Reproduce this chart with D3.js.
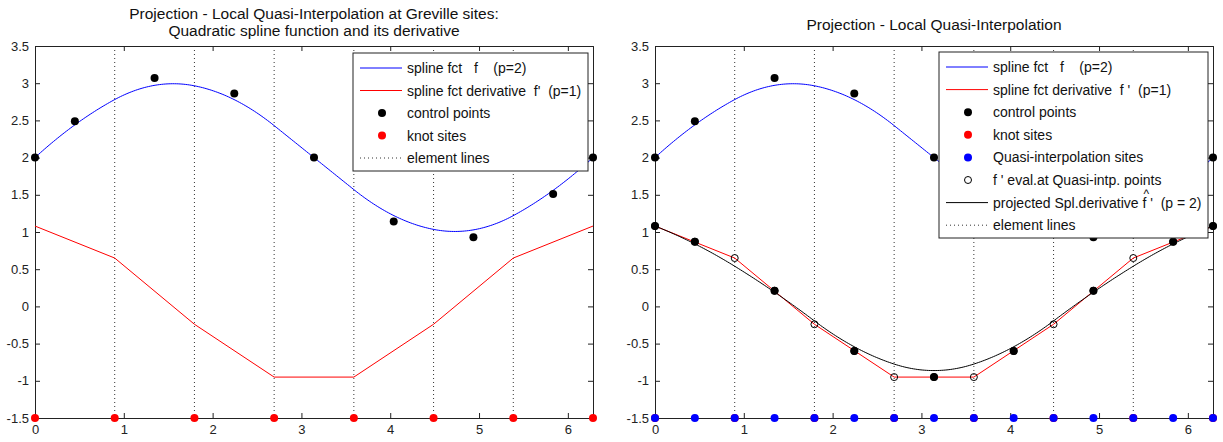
<!DOCTYPE html>
<html>
<head>
<meta charset="utf-8">
<script src="https://cdn.jsdelivr.net/npm/d3@7"></script>
<style>
  html, body { margin: 0; padding: 0; background: #fff; }
  svg { display: block; font-family: "Liberation Sans", Arial, Helvetica, sans-serif; }
</style>
</head>
<body>
<svg id="chart" width="1223" height="442"></svg>
<script>
// ---- data ----------------------------------------------------------------
// element knots on [0, 2*pi] (7 elements)
const knots = [0, 0.8976, 1.7952, 2.6928, 3.5904, 4.4880, 5.3856, 6.2832];
// Greville sites of the quadratic spline
const grevilleSites = [0, 0.4488, 1.3464, 2.2440, 3.1416, 4.0392, 4.9368, 5.8344, 6.2832];
// control points of the quadratic spline f (p=2)
const splineCtrl = [2.00, 2.49, 3.07, 2.86, 2.00, 1.14, 0.93, 1.51, 2.00];
// derivative f' (p=1), values at the knots
const derivAtKnots = [1.08, 0.65, -0.24, -0.95, -0.95, -0.24, 0.65, 1.08];
// quasi-interpolation sites (knots and Greville sites merged)
const quasiSites = [0, 0.4488, 0.8976, 1.3464, 1.7952, 2.2440, 2.6928, 3.1416,
                    3.5904, 4.0392, 4.4880, 4.9368, 5.3856, 5.8344, 6.2832];
// f' evaluated at the quasi-interpolation sites
const derivAtQuasi = [1.08, 0.87, 0.65, 0.21, -0.24, -0.60, -0.95, -0.95,
                      -0.95, -0.60, -0.24, 0.21, 0.65, 0.87, 1.08];
// control points of the projected derivative (p=2)
const projCtrl = [1.08, 0.87, 0.21, -0.60, -0.95, -0.60, 0.21, 0.87, 1.08];

const xTicks = [0, 1, 2, 3, 4, 5, 6];
const yTicks = [-1.5, -1, -0.5, 0, 0.5, 1, 1.5, 2, 2.5, 3, 3.5];

// ---- helpers -------------------------------------------------------------
// open knot vector for a quadratic spline over the element knots
const openKnots = [knots[0], knots[0], ...knots, knots[knots.length - 1], knots[knots.length - 1]];

// de Boor evaluation of a degree-2 B-spline
function evalQuadSpline(ctrl, x) {
  const p = 2, t = openKnots;
  let k = p;
  while (k < ctrl.length - 1 && x >= t[k + 1]) k++;
  const d = [];
  for (let j = 0; j <= p; j++) d.push(ctrl[j + k - p]);
  for (let r = 1; r <= p; r++) {
    for (let j = p; j >= r; j--) {
      const i = j + k - p;
      const den = t[i + p - r + 1] - t[i];
      const a = den === 0 ? 0 : (x - t[i]) / den;
      d[j] = (1 - a) * d[j - 1] + a * d[j];
    }
  }
  return d[p];
}
function splineSamples(ctrl) {
  const x0 = knots[0], x1 = knots[knots.length - 1], n = 300;
  return d3.range(n + 1).map(i => {
    const x = x0 + (x1 - x0) * i / n;
    return [x, evalQuadSpline(ctrl, x)];
  });
}

const svg = d3.select("#chart");
const plotTop = 46, plotBottom = 418;

function drawPanel(left, right, opts) {
  const x = d3.scaleLinear().domain([0, knots[knots.length - 1]]).range([left, right]);
  const y = d3.scaleLinear().domain([-1.5, 3.5]).range([plotBottom, plotTop]);
  const g = svg.append("g");
  const line = d3.line().x(d => x(d[0])).y(d => y(d[1]));

  // element lines
  g.selectAll(".elem").data(knots.slice(1, -1)).enter().append("line")
    .attr("x1", d => x(d)).attr("x2", d => x(d))
    .attr("y1", plotTop).attr("y2", plotBottom)
    .attr("stroke", "#333").attr("stroke-width", 1).attr("stroke-dasharray", "1,3");

  // axes (ticks pointing inward, mirrored on top and right)
  const ax = g.append("g");
  ax.append("g").attr("transform", `translate(0,${plotBottom})`)
    .call(d3.axisBottom(x).tickValues(xTicks).tickSize(-5).tickPadding(7).tickFormat(d3.format("d")));
  ax.append("g").attr("transform", `translate(0,${plotTop})`)
    .call(d3.axisTop(x).tickValues(xTicks).tickSize(-5).tickFormat(""));
  ax.append("g").attr("transform", `translate(${left},0)`)
    .call(d3.axisLeft(y).tickValues(yTicks).tickSize(-5).tickPadding(6).tickFormat(d => String(d)));
  ax.append("g").attr("transform", `translate(${right},0)`)
    .call(d3.axisRight(y).tickValues(yTicks).tickSize(-5).tickFormat(""));
  ax.selectAll(".domain").attr("stroke", "#222");
  ax.selectAll(".tick line").attr("stroke", "#222");
  ax.selectAll(".tick text").attr("font-size", 13).attr("fill", "#222")
    .attr("font-family", "Liberation Sans, Arial, sans-serif");

  // spline f
  g.append("path").datum(splineSamples(splineCtrl)).attr("d", line)
    .attr("fill", "none").attr("stroke", "#0000ff").attr("stroke-width", 1);

  // derivative f'
  g.append("path").datum(knots.map((k, i) => [k, derivAtKnots[i]])).attr("d", line)
    .attr("fill", "none").attr("stroke", "#ff0000").attr("stroke-width", 1);

  if (opts.quasi) {
    g.append("path").datum(splineSamples(projCtrl)).attr("d", line)
      .attr("fill", "none").attr("stroke", "#000").attr("stroke-width", 1);
    g.selectAll(".oc").data(quasiSites).enter().append("circle")
      .attr("cx", d => x(d)).attr("cy", (d, i) => y(derivAtQuasi[i])).attr("r", 3.5)
      .attr("fill", "none").attr("stroke", "#000").attr("stroke-width", 1);
    g.selectAll(".pc").data(grevilleSites).enter().append("circle")
      .attr("cx", d => x(d)).attr("cy", (d, i) => y(projCtrl[i])).attr("r", 4)
      .attr("fill", "#000");
  }

  // control points of f
  g.selectAll(".cp").data(grevilleSites).enter().append("circle")
    .attr("cx", d => x(d)).attr("cy", (d, i) => y(splineCtrl[i])).attr("r", 4)
    .attr("fill", "#000");

  // knot sites
  g.selectAll(".ks").data(knots).enter().append("circle")
    .attr("cx", d => x(d)).attr("cy", y(-1.5)).attr("r", 4).attr("fill", "#ff0000");
  if (opts.quasi) {
    g.selectAll(".qs").data(quasiSites).enter().append("circle")
      .attr("cx", d => x(d)).attr("cy", y(-1.5)).attr("r", 4).attr("fill", "#0000ff");
  }

  // legend
  const lg = svg.append("g");
  const L = opts.legend;
  lg.append("rect").attr("x", L.x).attr("y", L.y).attr("width", L.w).attr("height", L.h)
    .attr("fill", "#fff").attr("stroke", "#222").attr("stroke-width", 1);
  L.items.forEach((it, i) => {
    const cy = L.y + 15 + i * L.step;
    const sx0 = L.x + 7, sx1 = L.x + 49, mx = L.x + 29;
    if (it.kind === "line") {
      lg.append("line").attr("x1", sx0).attr("x2", sx1).attr("y1", cy).attr("y2", cy)
        .attr("stroke", it.color).attr("stroke-width", 1)
        .attr("stroke-dasharray", it.dash || null);
    } else if (it.kind === "dot") {
      lg.append("circle").attr("cx", mx).attr("cy", cy).attr("r", 4).attr("fill", it.color);
    } else if (it.kind === "ring") {
      lg.append("circle").attr("cx", mx).attr("cy", cy).attr("r", 3.5)
        .attr("fill", "none").attr("stroke", it.color);
    }
    const tx = L.x + 54;
    lg.append("text").attr("x", tx).attr("y", cy + 5).attr("font-size", 14)
      .attr("fill", "#111").attr("xml:space", "preserve").text(it.label);
    if (it.hatAfter) {
      // hat accent placed over the "f" that follows the given prefix
      const probe = lg.append("text").attr("font-size", 14).attr("xml:space", "preserve")
        .text(it.hatAfter);
      const w = probe.node().getComputedTextLength();
      probe.remove();
      lg.append("text").attr("x", tx + w + 1).attr("y", cy - 5).attr("font-size", 12)
        .attr("fill", "#111").text("^");
    }
  });
}

// left panel
drawPanel(35, 593, {
  quasi: false,
  legend: {
    x: 353, y: 53, w: 235, h: 118, step: 22.5,
    items: [
      { kind: "line", color: "#0000ff", label: "spline fct   f    (p=2)" },
      { kind: "line", color: "#ff0000", label: "spline fct derivative  f'  (p=1)" },
      { kind: "dot", color: "#000", label: "control points" },
      { kind: "dot", color: "#ff0000", label: "knot sites" },
      { kind: "line", color: "#333", dash: "1,3", label: "element lines" }
    ]
  }
});

// right panel
drawPanel(655, 1213, {
  quasi: true,
  legend: {
    x: 939, y: 52, w: 269, h: 186, step: 22.6,
    items: [
      { kind: "line", color: "#0000ff", label: "spline fct   f    (p=2)" },
      { kind: "line", color: "#ff0000", label: "spline fct derivative  f '  (p=1)" },
      { kind: "dot", color: "#000", label: "control points" },
      { kind: "dot", color: "#ff0000", label: "knot sites" },
      { kind: "dot", color: "#0000ff", label: "Quasi-interpolation sites" },
      { kind: "ring", color: "#000", label: "f ' eval.at Quasi-intp. points" },
      { kind: "line", color: "#000", label: "projected Spl.derivative f '  (p = 2)", hatAfter: "projected Spl.derivative " },
      { kind: "line", color: "#333", dash: "1,3", label: "element lines" }
    ]
  }
});

// titles
svg.append("text").attr("x", 314).attr("y", 19).attr("text-anchor", "middle")
  .attr("font-size", 15.5).attr("fill", "#111").text("Projection - Local Quasi-Interpolation at Greville sites:");
svg.append("text").attr("x", 314).attr("y", 36).attr("text-anchor", "middle")
  .attr("font-size", 15.5).attr("fill", "#111").text("Quadratic spline function and its derivative");
svg.append("text").attr("x", 934).attr("y", 30).attr("text-anchor", "middle")
  .attr("font-size", 15.5).attr("fill", "#111").text("Projection - Local Quasi-Interpolation");
</script>
</body>
</html>
